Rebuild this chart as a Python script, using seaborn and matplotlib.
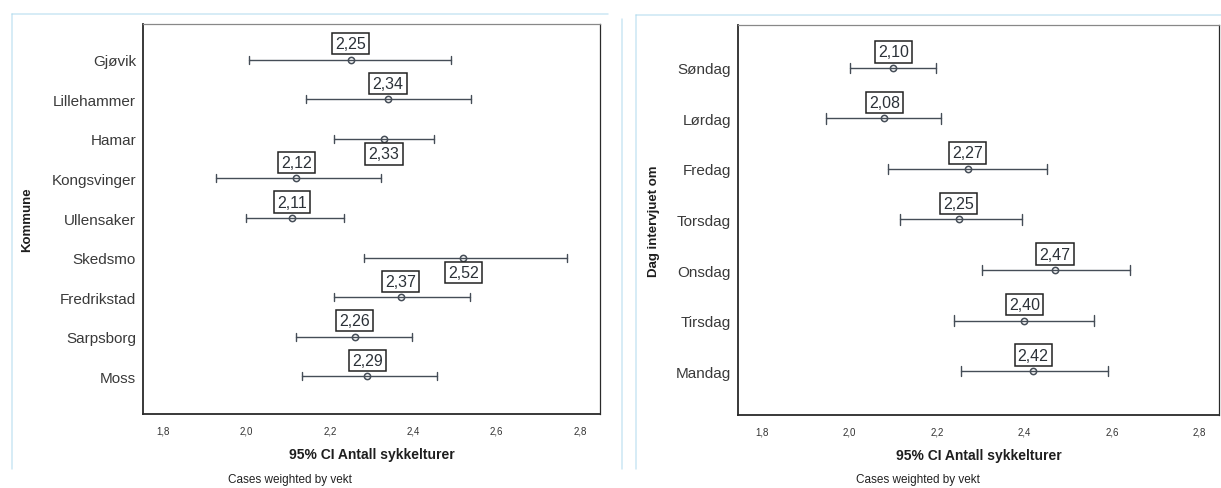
import numpy as np
import pandas as pd
import matplotlib
matplotlib.use("Agg")
import matplotlib.pyplot as plt
from matplotlib.lines import Line2D
import seaborn as sns

# ---- data ----
kommuner = ["Gjøvik", "Lillehammer", "Hamar", "Kongsvinger", "Ullensaker",
            "Skedsmo", "Fredrikstad", "Sarpsborg", "Moss"]
kommune_mean = [2.25, 2.34, 2.33, 2.12, 2.11, 2.52, 2.37, 2.26, 2.29]
kommune_lo = [2.006, 2.143, 2.209, 1.927, 1.999, 2.281, 2.210, 2.120, 2.134]
kommune_hi = [2.491, 2.539, 2.449, 2.323, 2.235, 2.768, 2.536, 2.398, 2.458]
kommune_label_below = [False, False, True, False, False, True, False, False, False]

dager = ["Søndag", "Lørdag", "Fredag", "Torsdag", "Onsdag", "Tirsdag", "Mandag"]
dag_mean = [2.10, 2.08, 2.27, 2.25, 2.47, 2.40, 2.42]
dag_lo = [2.000, 1.946, 2.088, 2.115, 2.303, 2.240, 2.256]
dag_hi = [2.197, 2.210, 2.451, 2.395, 2.641, 2.558, 2.591]

x_ticks = [1.8, 2.0, 2.2, 2.4, 2.6, 2.8]
x_ticklabels = ["1,8", "2,0", "2,2", "2,4", "2,6", "2,8"]

sns.set_theme(style="white")
plt.rcParams["font.family"] = ["Liberation Sans", "DejaVu Sans"]

W, H = 1221, 489
fig = plt.figure(figsize=(W / 100, H / 100), dpi=100)

def rect(l, t, r, b):
    return [l / W, (H - b) / H, (r - l) / W, (b - t) / H]

ax1 = fig.add_axes(rect(143, 25, 600, 415))
ax2 = fig.add_axes(rect(738, 26, 1219, 416))

line_col = "#454d57"

def long_frame(cats, lo, mean, hi):
    rows = []
    for c, a, m, b in zip(cats, lo, mean, hi):
        for v in (a, m, b):
            rows.append({"cat": c, "val": v})
    return pd.DataFrame(rows)

def draw(ax, cats, lo, mean, hi, below, ylim, ylabel, xlim):
    df = long_frame(cats, lo, mean, hi)
    sns.pointplot(data=df, x="val", y="cat", order=cats, ax=ax,
                  estimator=np.median,
                  errorbar=lambda v: (np.min(v), np.max(v)),
                  linestyle="none", marker="o", markersize=4.5,
                  markerfacecolor="white", markeredgewidth=1.1,
                  color=line_col, capsize=0.2, err_kws={"linewidth": 1.0})
    for i, (m, b) in enumerate(zip(mean, below)):
        off = 15 if b else -16
        ax.annotate(f"{m:.2f}".replace(".", ","), xy=(m, i),
                    xytext=(0, -off), textcoords="offset pixels",
                    ha="center", va="center", fontsize=11.5, color="#2b3138",
                    bbox=dict(boxstyle="square,pad=0.2", fc="white",
                              ec="#222222", lw=1.1))
    ax.set_xlim(*xlim)
    ax.set_ylim(*ylim)
    ax.set_xticks(x_ticks)
    ax.set_xticklabels(x_ticklabels)
    ax.tick_params(axis="x", labelsize=7, colors="#333333", direction="inout",
                   length=5, width=0.8, pad=6)
    ax.tick_params(axis="y", labelsize=11, colors="#444444", direction="out",
                   length=4, width=0.8, pad=1)
    for lbl in ax.get_yticklabels():
        lbl.set_color("#3a3a3a")
    ax.set_xlabel("95% CI Antall sykkelturer", fontsize=10, fontweight="bold",
                  color="#1e1e1e", labelpad=8)
    ax.set_ylabel(ylabel, fontsize=9.5, fontweight="bold", color="#1e1e1e")
    for side, sp in ax.spines.items():
        sp.set_visible(True)
        sp.set_color("#2a2a2a")
        sp.set_linewidth(1.3 if side in ("left", "bottom") else 0.9)
    ax.spines["top"].set_color("#888888")

draw(ax1, kommuner, kommune_lo, kommune_mean, kommune_hi, kommune_label_below,
     (8.95, -0.9), "Kommune", (1.752, 2.848))
draw(ax2, dager, dag_lo, dag_mean, dag_hi, [False] * len(dager),
     (6.87, -0.85), "Dag intervjuet om", (1.745, 2.845))

ax1.yaxis.set_label_coords((33 - 143) / (600 - 143), 0.5)
ax2.yaxis.set_label_coords((660 - 738) / (1219 - 738), 0.5)

fig.text(290 / W, 1 - 480 / H, "Cases weighted by vekt", fontsize=8.5,
         color="#222222", ha="center", va="center")
fig.text(918 / W, 1 - 480 / H, "Cases weighted by vekt", fontsize=8.5,
         color="#222222", ha="center", va="center")

# faint blue scan frame lines
blue = "#a9d8ec"
for (x0, y0, x1, y1) in [(12, 15, 608, 15), (12, 15, 12, 470),
                         (636, 16, 1221, 16), (636, 16, 636, 470),
                         (622, 20, 622, 470)]:
    fig.add_artist(Line2D([x0 / W, x1 / W], [1 - y0 / H, 1 - y1 / H],
                          color=blue, lw=1.1, alpha=0.6))

fig.savefig("out.png", dpi=100)
